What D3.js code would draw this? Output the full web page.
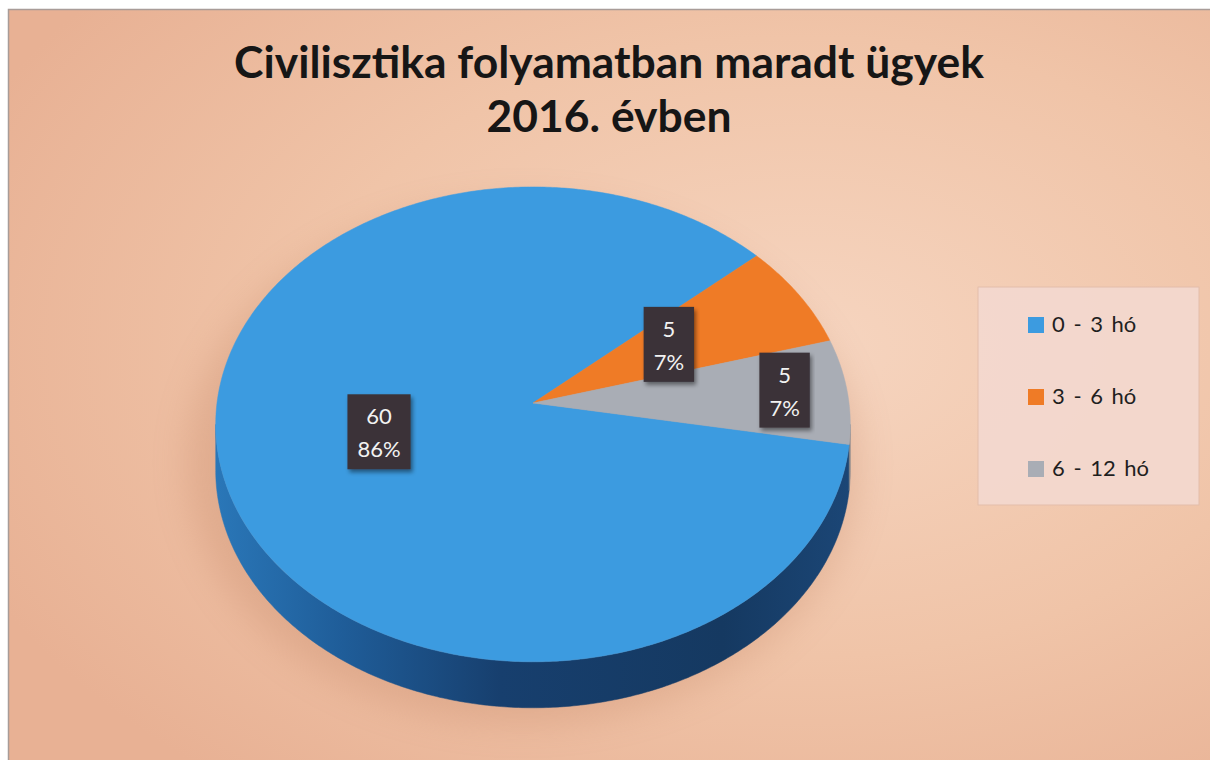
<!DOCTYPE html>
<html>
<head>
<meta charset="utf-8">
<script src="https://cdn.jsdelivr.net/npm/d3@7/dist/d3.min.js"></script>
<style>
  body { margin: 0; background: #fff; }
  text { font-family: Lato, "Open Sans", sans-serif; }
</style>
</head>
<body>
<svg id="chart" width="1210" height="760"></svg>
<script>
// data
var categories = ['0 - 3 hó', '3 - 6 hó', '6 - 12 hó'];
var values = [60, 5, 5];
var titleLines = ['Civilisztika folyamatban maradt ügyek', '2016. évben'];

var topColors = ['#3c9be0', '#ef7b26', '#a9adb5'];
var sideColors = ['url(#blueSide)', '#b5561a', '#7d8189'];
var labelRadius = [0.5, 0.5, 0.8];

var svg = d3.select('#chart'),
  W = 1210, H = 760,
  cx = 533, cy = 403, rx = 316, ry = 235.5,
  k = 0.09, depth = 46;

var defs = svg.append('defs');

var bg = defs.append('radialGradient').attr('id', 'bg')
  .attr('cx', '0.66').attr('cy', '0.45').attr('r', '0.75');
bg.append('stop').attr('offset', '0').attr('stop-color', '#f6d5c0');
bg.append('stop').attr('offset', '0.55').attr('stop-color', '#f0c4a8');
bg.append('stop').attr('offset', '1').attr('stop-color', '#e8b194');

var side = defs.append('linearGradient').attr('id', 'blueSide')
  .attr('gradientUnits', 'userSpaceOnUse')
  .attr('x1', 215).attr('x2', 850).attr('y1', 0).attr('y2', 0);
[[0, '#2a77b8'], [0.2, '#1f5d99'], [0.45, '#173f6e'], [0.8, '#153961'], [1, '#1b4676']]
  .forEach(function(s) {
    side.append('stop').attr('offset', s[0]).attr('stop-color', s[1]);
  });

defs.append('filter').attr('id', 'blur')
  .attr('x', '-20%').attr('y', '-20%').attr('width', '140%').attr('height', '140%')
  .append('feGaussianBlur').attr('stdDeviation', 18);

defs.append('filter').attr('id', 'boxShadow')
  .append('feDropShadow')
  .attr('dx', 2).attr('dy', 3).attr('stdDeviation', 2)
  .attr('flood-color', '#000').attr('flood-opacity', 0.45);

// chart area
svg.append('rect')
  .attr('x', 8).attr('y', 9).attr('width', W - 8).attr('height', H - 9)
  .attr('fill', 'url(#bg)');
svg.append('path')
  .attr('d', 'M8.5,' + H + 'V9.5H' + W)
  .attr('fill', 'none').attr('stroke', '#a89c98').attr('stroke-width', 1.5);

// title
var title = svg.append('g').attr('class', 'title');
title.selectAll('text')
  .data(titleLines)
  .enter().append('text')
  .attr('x', 609)
  .attr('y', function(d, i) { return 78 + i * 54; })
  .attr('text-anchor', 'middle')
  .attr('font-weight', 'bold')
  .attr('font-size', 38)
  .attr('fill', '#161616')
  .text(function(d) { return d; });
var tw = title.select('text').node().getComputedTextLength();
title.selectAll('text').attr('font-size', 38 * 750 / tw);

// perspective projection of a point on the pie's top plane
function proj(a, r, dy) {
  var x = r * Math.sin(a), z = -r * Math.cos(a),
    p = 1 / (1 - k * z);
  return [cx + rx * x * p, cy + ry * z * p + (dy || 0)];
}

function arcPoints(a0, a1, dy) {
  var n = Math.max(2, Math.ceil(Math.abs(a1 - a0) / 0.01)), pts = [];
  for (var i = 0; i <= n; i++) pts.push(proj(a0 + (a1 - a0) * i / n, 1, dy));
  return pts;
}

var line = d3.line();
var total = d3.sum(values);
var pct = d3.format('.0%');

var pie = d3.pie()
  .sort(null)
  .startAngle(100 * Math.PI / 180)
  .endAngle(460 * Math.PI / 180);
var arcs = pie(values);

// soft shadow under the pie
svg.append('ellipse')
  .attr('cx', cx - 10).attr('cy', cy + 60).attr('rx', rx + 20).attr('ry', ry + 25)
  .attr('fill', '#b06a4a').attr('opacity', 0.22)
  .attr('filter', 'url(#blur)');

// side walls (front part only)
var vs = Math.PI / 2 + Math.asin(k), ve = 3 * Math.PI / 2 - Math.asin(k);
var bands = [];
arcs.forEach(function(d, i) {
  for (var n = -1; n <= 2; n++) {
    var lo = Math.max(d.startAngle, vs + 2 * Math.PI * n),
      hi = Math.min(d.endAngle, ve + 2 * Math.PI * n);
    if (hi > lo) bands.push({ i: i, lo: lo, hi: hi });
  }
});
svg.append('g').selectAll('path')
  .data(bands)
  .enter().append('path')
  .attr('d', function(b) {
    var pts = arcPoints(b.lo, b.hi, 0).concat(arcPoints(b.hi, b.lo, depth));
    return line(pts) + 'Z';
  })
  .attr('fill', function(b) { return sideColors[b.i]; })
  .attr('stroke', function(b) { return sideColors[b.i]; })
  .attr('stroke-width', 0.5);

// top faces
svg.append('g').selectAll('path')
  .data(arcs)
  .enter().append('path')
  .attr('d', function(d) {
    return line([[cx, cy]].concat(arcPoints(d.startAngle, d.endAngle, 0))) + 'Z';
  })
  .attr('fill', function(d, i) { return topColors[i]; })
  .attr('stroke', function(d, i) { return topColors[i]; })
  .attr('stroke-width', 0.5);

// data labels
var labels = svg.append('g').selectAll('g')
  .data(arcs)
  .enter().append('g')
  .attr('transform', function(d, i) {
    var p = proj((d.startAngle + d.endAngle) / 2, labelRadius[i], 0);
    return 'translate(' + p[0] + ',' + (p[1] - 4) + ')';
  });
var boxes = labels.append('rect')
  .attr('fill', '#3a3139')
  .attr('filter', 'url(#boxShadow)');
labels.selectAll('text')
  .data(function(d) { return [String(d.value), pct(d.value / total)]; })
  .enter().append('text')
  .attr('x', 0)
  .attr('y', function(d, j) { return -7 + j * 33; })
  .attr('text-anchor', 'middle')
  .attr('font-size', 22)
  .attr('fill', '#f2f2f2')
  .text(function(d) { return d; });
boxes.each(function() {
  var g = d3.select(this.parentNode), w = 0;
  g.selectAll('text').each(function() { w = Math.max(w, this.getComputedTextLength()); });
  w += 20;
  d3.select(this)
    .attr('x', -w / 2).attr('y', -37).attr('width', w).attr('height', 75);
});

// legend
var legend = svg.append('g').attr('transform', 'translate(978,287)');
legend.append('rect')
  .attr('width', 221).attr('height', 218)
  .attr('fill', '#f4d9d0').attr('opacity', 0.9)
  .attr('stroke', '#e2bcaa').attr('stroke-width', 1);
var items = legend.selectAll('g.item')
  .data(categories)
  .enter().append('g')
  .attr('class', 'item')
  .attr('transform', function(d, i) { return 'translate(50,' + (45 + i * 72) + ')'; });
items.append('rect')
  .attr('x', 0).attr('y', -15).attr('width', 16).attr('height', 16)
  .attr('fill', function(d, i) { return topColors[i]; });
items.append('text')
  .attr('x', 24).attr('y', 0)
  .attr('font-size', 22)
  .attr('word-spacing', 3)
  .attr('fill', '#1f1f1f')
  .text(function(d) { return d; });
</script>
</body>
</html>
